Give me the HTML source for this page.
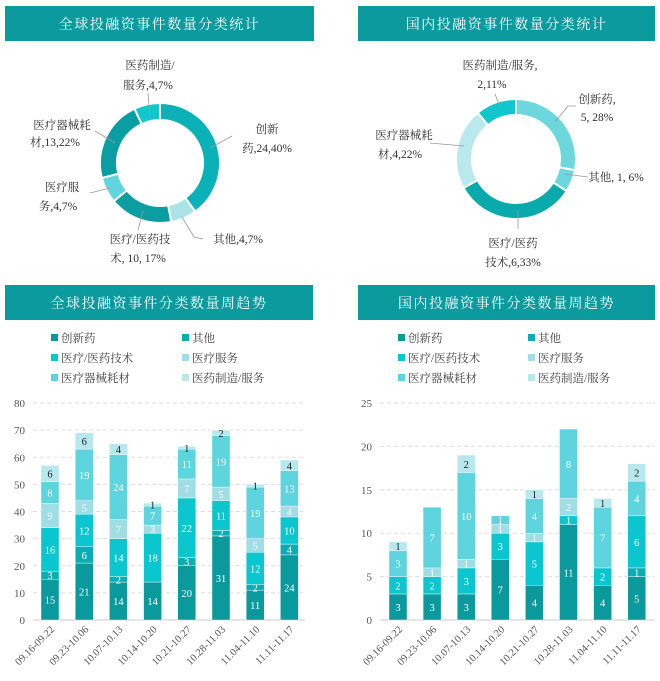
<!DOCTYPE html>
<html><head><meta charset="utf-8">
<style>
html,body{margin:0;padding:0;background:#fff;width:660px;height:681px;overflow:hidden}
svg{display:block}
text{font-family:"Liberation Serif","Noto Serif CJK SC",serif;}
</style></head>
<body>
<svg id="s" width="660" height="681" viewBox="0 0 660 681" xmlns="http://www.w3.org/2000/svg"></svg>
<script>
const S=document.getElementById('s');let h='';
function hdr(x,y,w,t){h+=`<rect x="${x}" y="${y}" width="${w}" height="35" fill="#0b9b9f"/><text x="${x+w/2}" y="${y+23}" fill="#fff" font-size="14" text-anchor="middle" letter-spacing="1.5">${t}</text>`;}
hdr(5,6,309,'全球投融资事件数量分类统计');
hdr(358,6,297,'国内投融资事件数量分类统计');
hdr(5,285,308,'全球投融资事件分类数量周趋势');
hdr(358,285,297,'国内投融资事件分类数量周趋势');
function donut(cx,cy,ro,ri,segs){let a=0;const tot=segs.reduce((s,x)=>s+x[0],0);
 segs.forEach(([v,c])=>{const a0=a/tot*2*Math.PI,a1=(a+v)/tot*2*Math.PI;a+=v;
  const p=(r,t)=>[cx+r*Math.sin(t),cy-r*Math.cos(t)];const L=(a1-a0)>Math.PI?1:0;
  const [x0,y0]=p(ro,a0),[x1,y1]=p(ro,a1),[x2,y2]=p(ri,a1),[x3,y3]=p(ri,a0);
  h+=`<path d="M${x0},${y0}A${ro},${ro} 0 ${L} 1 ${x1},${y1}L${x2},${y2}A${ri},${ri} 0 ${L} 0 ${x3},${y3}Z" fill="${c}" stroke="#fff" stroke-width="2"/>`;});}
donut(160,163,60,43,[[40,'#0ab2b7'],[7,'#a9e3e7'],[17,'#0a9ea2'],[7,'#5fd5dd'],[22,'#0a9ea2'],[7,'#12c6cd']]);
donut(516,159,60,44,[[28,'#6dd7de'],[6,'#6dd7de'],[33,'#0aa9ac'],[22,'#b9e9ec'],[11,'#12c6cd']]);
function T(x,y,t,a='start',s=11.5,c='#333'){h+=`<text x="${x}" y="${y}" font-size="${s}" fill="${c}" text-anchor="${a}">${t}</text>`;}
function ln(p){h+=`<polyline points="${p}" fill="none" stroke="#999" stroke-width="0.8"/>`;}
// left donut labels
T(150,69,'医药制造/','middle');T(148,89,'服务,4,7%','middle');ln('148,93 150,120');
T(62,129,'医疗器械耗','middle');T(55,146,'材,13,22%','middle');ln('95,131 115,143');
T(62,191,'医疗服','middle');T(58,210,'务,4,7%','middle');ln('90,193 110,188');
T(267,133,'创新','middle');T(267,152,'药,24,40%','middle');ln('232,136 210,148');
T(238,243,'其他,4,7%','middle');ln('203,239 194,237 182,217');
T(140,243,'医疗/医药技','middle');T(138,262,'术, 10, 17%','middle');ln('138,230 143,211');
// right donut labels
T(500,69,'医药制造/服务,','middle');T(492,88,'2,11%','middle');ln('495,94 500,107');
T(597,103,'创新药,','middle');T(597,121,'5, 28%','middle');ln('576,106 568,106 555,122');
T(404,139,'医疗器械耗','middle');T(400,158,'材,4,22%','middle');ln('430,143 464,146');
T(616,181,'其他, 1, 6%','middle');ln('588,177 565,174');
T(513,247,'医疗/医药','middle');T(513,266,'技术,6,33%','middle');ln('518,229 518,210');
// legends
const cols=['#0a9a9e','#0aadb2','#0cc6cf','#9fdee4','#5dd4de','#b7e8ed'];
const names=['创新药','其他','医疗/医药技术','医疗服务','医疗器械耗材','医药制造/服务'];
function leg(x1,x2){names.forEach((n,i)=>{const x=i%2?x2:x1,y=338+Math.floor(i/2)*20;
 h+=`<rect x="${x}" y="${y-4}" width="7" height="7" fill="${cols[i]}"/>`;T(x+10,y+4,n,'start',11.5,'#444');});}
leg(51,182);leg(398,528);
// bar charts
const dates=['09.16-09.22','09.23-10.06','10.07-10.13','10.14-10.20','10.21-10.27','10.28-11.03','11.04-11.10','11.11-11.17'];
function bars(x0,x1,max,step,c0,sp,data,lblx){const y0=620,k=217/max;
 for(let v=0;v<=max;v+=step){const y=y0-v*k;if(v>0)h+=`<line x1="${x0}" x2="${x1}" y1="${y}" y2="${y}" stroke="#ddd" stroke-dasharray="4,3"/>`;T(lblx,y+4,v,'end',11,'#555');}
 h+=`<line x1="${x0}" x2="${x1}" y1="${y0}" y2="${y0}" stroke="#ccc"/>`;
 data.forEach((d,i)=>{const cx=c0+i*sp;let acc=0;d.forEach((v,j)=>{if(!v)return;const yt=y0-(acc+v)*k,hh=v*k;acc+=v;
   h+=`<rect x="${cx-9}" y="${yt}" width="18" height="${hh}" fill="${cols[j]}" stroke="#fff" stroke-width="0.4"/>`;
   T(cx,yt+hh/2+4,v,'middle',10.5,j==5?'#222':'#fff');});
  h+=`<text transform="translate(${cx+5},${y0+10}) rotate(-45)" font-size="10.5" fill="#555" text-anchor="end">${dates[i]}</text>`;});}
bars(33,305,80,10,50,34.2,[[15,3,16,9,8,6],[21,6,12,5,19,6],[14,2,14,7,24,4],[14,0,18,3,7,1],[20,3,22,7,11,1],[31,2,11,5,19,2],[11,2,12,5,19,1],[24,4,10,4,13,4]],25);
bars(380,655,25,5,398,34.1,[[3,0,2,0,3,1],[3,0,2,1,7,0],[3,0,3,1,10,2],[7,0,3,1,1,0],[4,0,5,1,4,1],[11,0,1,2,8,0],[4,0,2,0,7,1],[5,1,6,0,4,2]],372);
S.innerHTML=h;
</script>
</body></html>
